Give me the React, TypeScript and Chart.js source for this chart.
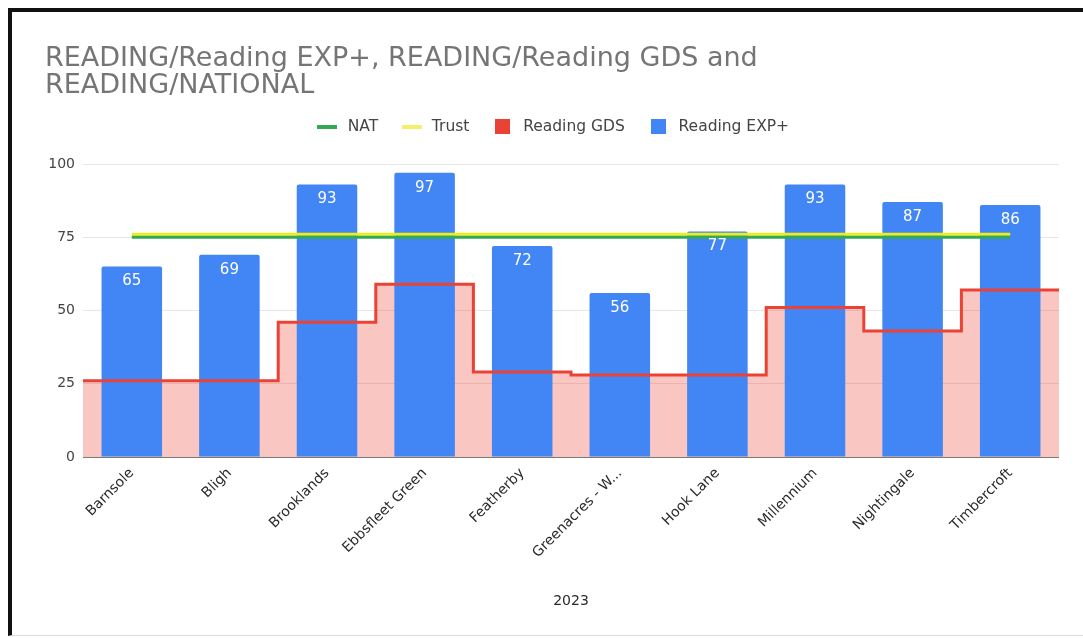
import React, { useEffect, useRef } from "react";
import { Chart, registerables } from "chart.js";

Chart.register(...registerables);

const categories = [
  "Barnsole",
  "Bligh",
  "Brooklands",
  "Ebbsfleet Green",
  "Featherby",
  "Greenacres - W...",
  "Hook Lane",
  "Millennium",
  "Nightingale",
  "Timbercroft",
];
const readingExpPlus = [65, 69, 93, 97, 72, 56, 77, 93, 87, 86];
const readingGds = [26, 26, 46, 59, 29, 28, 28, 51, 43, 57];
const nat = [75, 75, 75, 75, 75, 75, 75, 75, 75, 75];
const trust = [76, 76, 76, 76, 76, 76, 76, 76, 76, 76];
const yTicks = [0, 25, 50, 75, 100];
const titleLines = ["READING/Reading EXP+, READING/Reading GDS and", "READING/NATIONAL"];
const xTitle = "2023";

const FONT = "'DejaVu Sans', 'Liberation Sans', Arial, sans-serif";

function makeMarker(w: number, h: number, color: string) {
  const c = document.createElement("canvas");
  c.width = w;
  c.height = h;
  const g = c.getContext("2d");
  if (g) {
    g.fillStyle = color;
    g.fillRect(0, 0, w, h);
  }
  return c;
}

const barLabelPlugin = {
  id: "barLabels",
  afterDatasetsDraw(chart: any) {
    const ctx = chart.ctx;
    chart.data.datasets.forEach((ds: any, di: number) => {
      if (ds.type !== "bar") return;
      const meta = chart.getDatasetMeta(di);
      ctx.save();
      ctx.fillStyle = "#ffffff";
      ctx.font = `15px ${FONT}`;
      ctx.textAlign = "center";
      ctx.textBaseline = "middle";
      meta.data.forEach((el: any, i: number) => {
        ctx.fillText(String(ds.data[i]), el.x, el.y + 15);
      });
      ctx.restore();
    });
  },
};

export default function App() {
  const ref = useRef<HTMLCanvasElement | null>(null);

  useEffect(() => {
    if (!ref.current) return;
    const stepPoints = readingGds
      .map((v, i) => ({ x: i - 0.5, y: v }))
      .concat([{ x: readingGds.length - 0.5, y: readingGds[readingGds.length - 1] }]);

    const natColor = "#34a853";
    const trustColor = "#eeee1c";
    const gdsColor = "#ea4335";
    const expColor = "#4285f4";
    const markers = [
      makeMarker(20, 4, natColor),
      makeMarker(20, 4, "#f3f06a"),
      makeMarker(15, 15, gdsColor),
      makeMarker(15, 15, expColor),
    ];

    const chart = new Chart(ref.current, {
      type: "bar",
      data: {
        labels: categories,
        datasets: [
          {
            type: "line",
            label: "NAT",
            data: nat,
            borderColor: natColor,
            backgroundColor: natColor,
            borderWidth: 3,
            pointRadius: 0,
            fill: false,
            order: 0,
            xAxisID: "x",
          } as any,
          {
            type: "line",
            label: "Trust",
            data: trust,
            borderColor: trustColor,
            backgroundColor: trustColor,
            borderWidth: 3,
            pointRadius: 0,
            fill: false,
            order: 1,
            xAxisID: "x",
          } as any,
          {
            type: "line",
            label: "Reading GDS",
            data: stepPoints,
            borderColor: gdsColor,
            backgroundColor: "rgba(234, 67, 53, 0.3)",
            borderWidth: 3,
            pointRadius: 0,
            stepped: true,
            fill: "origin",
            order: 2,
            xAxisID: "x2",
          } as any,
          {
            type: "bar",
            label: "Reading EXP+",
            data: readingExpPlus,
            backgroundColor: expColor,
            borderRadius: 2,
            borderSkipped: "bottom",
            grouped: false,
            categoryPercentage: 1,
            barPercentage: 0.62,
            order: 3,
            xAxisID: "x",
          } as any,
        ],
      },
      options: {
        responsive: false,
        animation: false,
        devicePixelRatio: 1,
        layout: { padding: { left: 45, right: 24, top: 0, bottom: 0 } },
        font: { family: FONT },
        scales: {
          x: {
            type: "category",
            offset: true,
            position: "bottom",
            grid: { display: false, drawTicks: false },
            border: { display: false },
            ticks: {
              autoSkip: false,
              minRotation: 45,
              maxRotation: 45,
              padding: 8,
              color: "#2a2a2a",
              font: { family: FONT, size: 14 },
            },
            title: {
              display: true,
              text: xTitle,
              color: "#2a2a2a",
              font: { family: FONT, size: 14 },
              padding: { top: 4, bottom: 28 },
            },
            afterFit: (s: any) => {
              s.height = 181;
            },
          },
          x2: {
            type: "linear",
            position: "top",
            min: -0.5,
            max: categories.length - 0.5,
            offset: false,
            display: true,
            grid: { display: false, drawTicks: false },
            border: { display: false },
            ticks: { display: false },
            afterFit: (s: any) => {
              s.height = 19.5;
            },
          },
          y: {
            type: "linear",
            min: 0,
            max: 100,
            border: { display: false },
            grid: {
              drawTicks: false,
              color: (c: any) => (c.tick && c.tick.value === 0 ? "#7a7a7a" : "#e6e6e6"),
            },
            afterBuildTicks: (s: any) => {
              s.ticks = yTicks.map((v) => ({ value: v }));
            },
            ticks: {
              padding: 8,
              color: "#444444",
              font: { family: FONT, size: 14 },
            },
            afterFit: (s: any) => {
              s.width = 38;
            },
          },
        },
        plugins: {
          filler: { drawTime: "beforeDatasetsDraw" },
          tooltip: { enabled: false },
          title: {
            display: true,
            text: titleLines,
            align: "start",
            color: "#757575",
            font: { family: FONT, size: 27, weight: "normal", lineHeight: "27px" },
            padding: { top: 45, bottom: -1 },
          },
          legend: {
            display: true,
            position: "top",
            align: "center",
            labels: {
              usePointStyle: true,
              pointStyleWidth: 25,
              boxHeight: 15,
              padding: 21,
              color: "#444444",
              font: { family: FONT, size: 15.5 },
              sort: (a: any, b: any) => a.datasetIndex - b.datasetIndex,
              generateLabels: (chart: any) =>
                chart.data.datasets.map((ds: any, i: number) => ({
                  text: ds.label,
                  datasetIndex: i,
                  fillStyle: ds.type === "bar" ? ds.backgroundColor : ds.borderColor,
                  strokeStyle: "rgba(0,0,0,0)",
                  lineWidth: 0,
                  pointStyle: markers[i],
                  hidden: false,
                  fontColor: "#444444",
                })),
            },
          },
        },
      } as any,
      plugins: [barLabelPlugin],
    });
    return () => chart.destroy();
  }, []);

  return (
    <div
      style={{
        position: "fixed",
        left: 0,
        top: 0,
        width: 1083,
        height: 638,
        overflow: "hidden",
        background: "#ffffff",
      }}
    >
      <canvas
        ref={ref}
        width={1083}
        height={638}
        style={{ position: "absolute", left: 0, top: 0, width: 1083, height: 638 }}
      />
      <div
        style={{
          position: "absolute",
          left: 8,
          top: 8,
          width: 1100,
          height: 623,
          borderTop: "4px solid #111111",
          borderLeft: "4px solid #111111",
          borderBottom: "1px solid #dddddd",
          pointerEvents: "none",
        }}
      />
    </div>
  );
}
